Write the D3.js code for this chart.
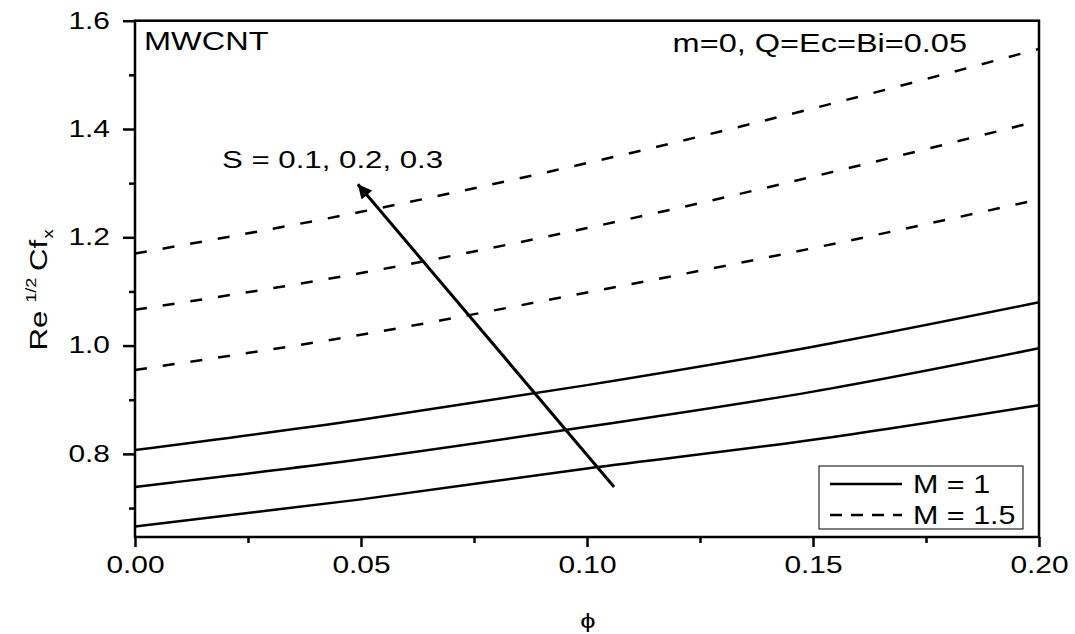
<!DOCTYPE html>
<html>
<head>
<meta charset="utf-8">
<script src="https://cdn.jsdelivr.net/npm/d3@7"></script>
<style>
  body { margin: 0; background: #fff; }
  text { font-family: "Liberation Sans", Arial, sans-serif; fill: #000; }
</style>
</head>
<body>
<div class="container"></div>
<script>
// values
var phi = [0, 0.05, 0.10, 0.15, 0.20];
var sValues = [0.1, 0.2, 0.3];
// M = 1 (solid), one row per S
var cfM1 = [
  [0.666, 0.716, 0.773, 0.826, 0.890],
  [0.739, 0.790, 0.850, 0.915, 0.995],
  [0.807, 0.863, 0.927, 0.998, 1.080]
];
// M = 1.5 (dashed)
var cfM15 = [
  [0.955, 1.020, 1.098, 1.180, 1.270],
  [1.066, 1.134, 1.217, 1.312, 1.415],
  [1.170, 1.247, 1.337, 1.438, 1.548]
];
var xMajor = [0, 0.05, 0.10, 0.15, 0.20];
var xMinor = [0.025, 0.075, 0.125, 0.175];
var yMajor = [0.8, 1.0, 1.2, 1.4, 1.6];
var yMinor = [0.7, 0.9, 1.1, 1.3, 1.5];
var arrowFrom = [0.106, 0.739];
var arrowTo = [0.0493, 1.298];
var legendItems = [
  { label: "M = 1", dash: null },
  { label: "M = 1.5", dash: "12,9" }
];

var W = 1075, H = 634;
var pLeft = 135, pRight = 1039, pTop = 20.7, pBottom = 537;
var stretch = "scale(1.3,1)";

var svg = d3.select(".container").append("svg")
  .attr("width", W).attr("height", H);

var x = d3.scaleLinear().domain([0, 0.2]).range([pLeft, pRight]);
var y = d3.scaleLinear().domain([0.6465, 1.6]).range([pBottom, pTop]);

//axes - minor ticks first
svg.append("g").attr("transform", "translate(0," + pBottom + ")")
  .call(d3.axisBottom(x).tickValues(xMinor).tickSize(6).tickFormat(""))
  .call(function (g) { g.select(".domain").remove(); })
  .selectAll("line").attr("stroke-width", 2.5);

svg.append("g").attr("transform", "translate(" + pLeft + ",0)")
  .call(d3.axisLeft(y).tickValues(yMinor).tickSize(6).tickFormat(""))
  .call(function (g) { g.select(".domain").remove(); })
  .selectAll("line").attr("stroke-width", 2.5);

var xAxis = svg.append("g").attr("transform", "translate(0," + pBottom + ")")
  .call(d3.axisBottom(x).tickValues(xMajor).tickSize(10).tickFormat(d3.format(".2f")));
xAxis.select(".domain").remove();
xAxis.selectAll("line").attr("stroke-width", 2.5);
xAxis.selectAll("text")
  .attr("y", null).attr("dy", null)
  .attr("transform", "translate(0,36) " + stretch)
  .style("font-size", "23px").style("font-family", "'Liberation Sans', Arial, sans-serif");

var yAxis = svg.append("g").attr("transform", "translate(" + pLeft + ",0)")
  .call(d3.axisLeft(y).tickValues(yMajor).tickSize(12).tickFormat(d3.format(".1f")));
yAxis.select(".domain").remove();
yAxis.selectAll("line").attr("stroke-width", 2.5);
yAxis.selectAll("text")
  .attr("x", null)
  .attr("transform", "translate(-25,0) " + stretch)
  .style("font-size", "23px").style("font-family", "'Liberation Sans', Arial, sans-serif");

// frame
svg.append("rect")
  .attr("x", pLeft).attr("y", pTop)
  .attr("width", pRight - pLeft).attr("height", pBottom - pTop)
  .attr("fill", "none").attr("stroke", "#000").attr("stroke-width", 2.5);

// curves
var line = d3.line()
  .x(function (d, i) { return x(phi[i]); })
  .y(function (d) { return y(d); })
  .curve(d3.curveMonotoneX);

svg.selectAll(".solid").data(cfM1).enter().append("path")
  .attr("class", "solid")
  .attr("d", line)
  .attr("fill", "none").attr("stroke", "#000").attr("stroke-width", 2.5);

svg.selectAll(".dashed").data(cfM15).enter().append("path")
  .attr("class", "dashed")
  .attr("d", line)
  .attr("fill", "none").attr("stroke", "#000").attr("stroke-width", 2.5)
  .attr("stroke-dasharray", "12,16");

// arrow
svg.append("defs").append("marker")
  .attr("id", "head")
  .attr("viewBox", "0 0 10 10")
  .attr("refX", 10).attr("refY", 5)
  .attr("markerUnits", "userSpaceOnUse")
  .attr("markerWidth", 20).attr("markerHeight", 14)
  .attr("orient", "auto")
  .append("path").attr("d", "M0,0L10,5L0,10z").attr("fill", "#000");

svg.append("line")
  .attr("x1", x(arrowFrom[0])).attr("y1", y(arrowFrom[1]))
  .attr("x2", x(arrowTo[0])).attr("y2", y(arrowTo[1]))
  .attr("stroke", "#000").attr("stroke-width", 3)
  .attr("marker-end", "url(#head)");

// annotations
function label(tx, ty, str, size, anchor) {
  return svg.append("text")
    .attr("transform", "translate(" + tx + "," + ty + ") " + stretch)
    .attr("text-anchor", anchor || "start")
    .style("font-size", size + "px")
    .text(str);
}
label(144, 50, "MWCNT", 25);
label(967, 52, "m=0, Q=Ec=Bi=0.05", 25, "end");
label(222, 168, "S = " + sValues.join(", "), 24);

// x axis title
label(588, 628, "\u03d5", 21, "middle");

// y axis title
var yt = svg.append("text")
  .attr("transform", "translate(47,290) rotate(-90) " + stretch)
  .attr("text-anchor", "middle")
  .style("font-size", "24px");
yt.append("tspan").text("Re");
yt.append("tspan").attr("dx", 6).attr("dy", -11).style("font-size", "14px").text("1/2");
yt.append("tspan").attr("dx", 5).attr("dy", 11).text("Cf");
yt.append("tspan").attr("dx", 1).attr("dy", 6).style("font-size", "14px").text("x");

// legend
var lg = svg.append("g");
lg.append("rect")
  .attr("x", 819).attr("y", 466).attr("width", 204).attr("height", 63)
  .attr("fill", "#fff").attr("stroke", "#000").attr("stroke-width", 1);
var rowY = [484, 515];
legendItems.forEach(function (d, i) {
  lg.append("line")
    .attr("x1", 830).attr("x2", 902)
    .attr("y1", rowY[i]).attr("y2", rowY[i])
    .attr("stroke", "#000").attr("stroke-width", 2.5)
    .attr("stroke-dasharray", d.dash);
  lg.append("text")
    .attr("transform", "translate(913," + (rowY[i] + 9) + ") scale(1.22,1)")
    .style("font-size", "25px")
    .text(d.label);
});
</script>
</body>
</html>
